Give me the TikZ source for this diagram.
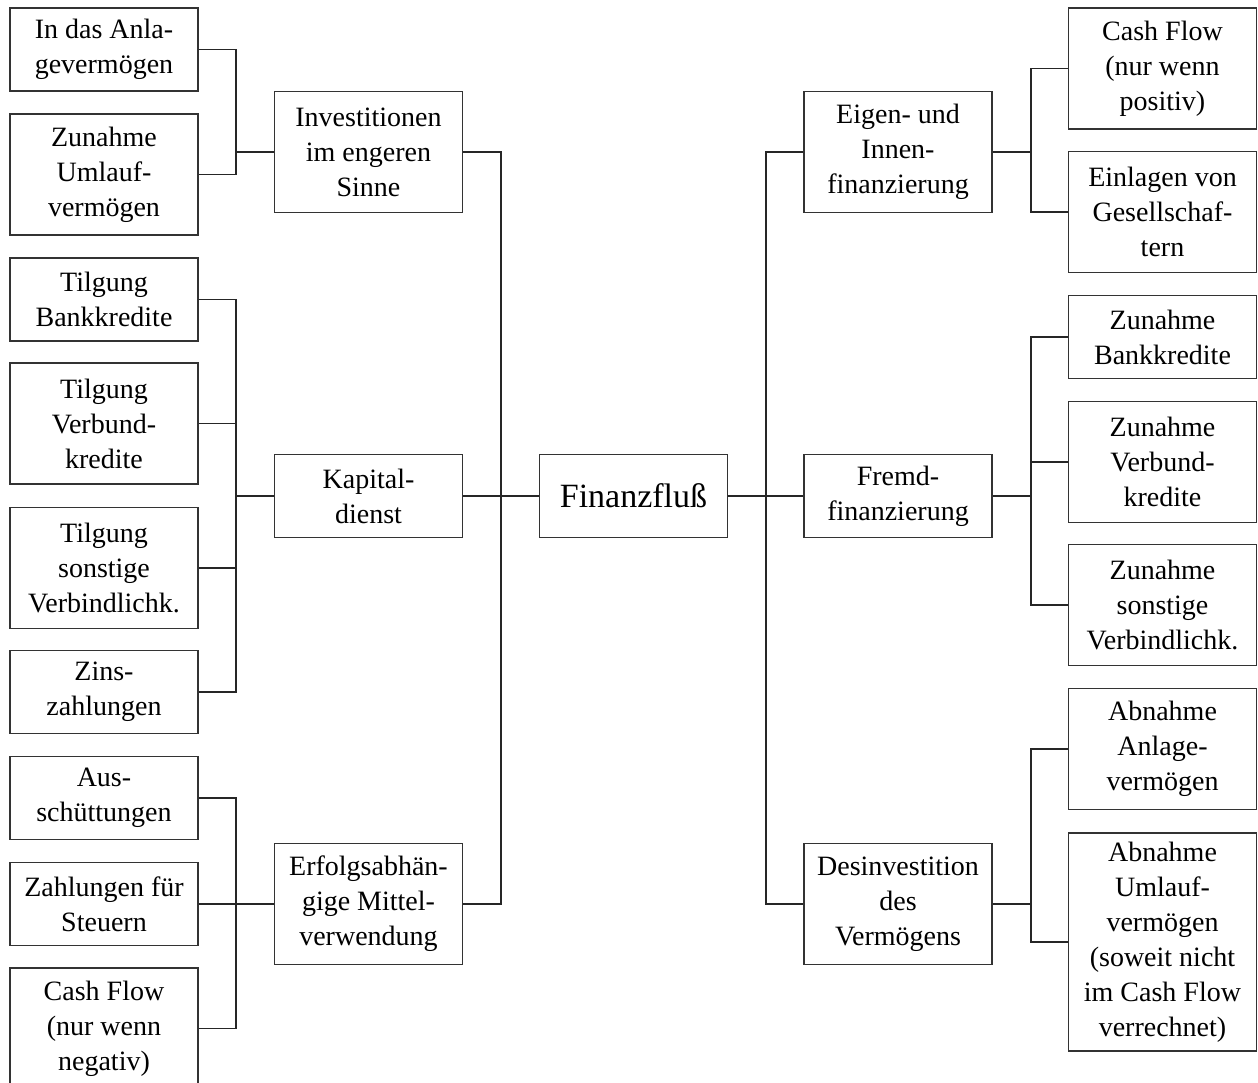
\documentclass[tikz,border=0pt]{standalone}
\usepackage{fontspec}
\setmainfont{Liberation Serif}
\begin{document}
\begin{tikzpicture}[x=0.5pt, y=-0.5pt,
    box/.style={draw=black!80, line width=0.6pt, align=center, inner sep=0pt,
        minimum width=94pt, minimum height=41.5pt, font=\fontsize{14}{17.5}\selectfont},
    tall/.style={box, minimum height=60.5pt},
    link/.style={draw=black!85, line width=0.6pt}]
    \useasboundingbox (0,0) rectangle (1258,1082);
    \clip (0,0) rectangle (1258,1082);

    % Left column
    \node[box] (anlage) at (104,49.5) {In das Anla-\\gevermögen};
    \node[tall] (umlauf) at (104,174.5) {Zunahme\\Umlauf-\\vermögen};
    \node[box] (tbank) at (104,299.5) {Tilgung\\Bankkredite};
    \node[tall] (tverbund) at (104,423.5) {Tilgung\\Verbund-\\kredite};
    \node[tall] (tsonst) at (104,568) {Tilgung\\sonstige\\Verbindlichk.};
    \node[box] (zins) at (104,692) {Zins-\\zahlungen};
    \node[box] (aus) at (104,798) {Aus-\\schüttungen};
    \node[box] (steuer) at (104,904) {Zahlungen für\\Steuern};
    \node[tall] (cfneg) at (104,1028.5) {Cash Flow\\(nur wenn\\negativ)};

    % Middle left
    \node[tall] (inv) at (368.5,152) {Investitionen\\im engeren\\Sinne};
    \node[box] (kap) at (368.5,496) {Kapital-\\dienst};
    \node[tall] (erfolg) at (368.5,904) {Erfolgsabhän-\\gige Mittel-\\verwendung};

    % Central box
    \node[box, font=\fontsize{17}{20}\selectfont] (fin) at (633.5,496) {Finanzfluß};

    % Middle right
    \node[tall] (eigen) at (898,152) {Eigen- und\\Innen-\\finanzierung};
    \node[box] (fremd) at (898,496) {Fremd-\\finanzierung};
    \node[tall] (desinv) at (898,904) {Desinvestition\\des\\Vermögens};

    % Right column
    \node[tall] (cfpos) at (1162.5,68.5) {Cash Flow\\(nur wenn\\positiv)};
    \node[tall] (einlagen) at (1162.5,212) {Einlagen von\\Gesellschaf-\\tern};
    \node[box] (zbank) at (1162.5,337) {Zunahme\\Bankkredite};
    \node[tall] (zverbund) at (1162.5,462) {Zunahme\\Verbund-\\kredite};
    \node[tall] (zsonst) at (1162.5,605) {Zunahme\\sonstige\\Verbindlichk.};
    \node[tall] (abanlage) at (1162.5,749) {Abnahme\\Anlage-\\vermögen};
    \node[box, minimum height=109pt] (abumlauf) at (1162.5,942)
        {Abnahme\\Umlauf-\\vermögen\\(soweit nicht\\im Cash Flow\\verrechnet)};

    % Junctions
    \coordinate (jinv) at (236,152);
    \coordinate (jkap) at (236,496);
    \coordinate (jerf) at (236,904);
    \coordinate (jl) at (501,496);
    \coordinate (jr) at (766,496);
    \coordinate (jeig) at (1031,152);
    \coordinate (jfre) at (1031,496);
    \coordinate (jdes) at (1031,904);

    % Left brackets
    \draw[link] (anlage.east) -| (jinv) |- (umlauf.east);
    \draw[link] (jinv) -- (inv.west);
    \draw[link] (tbank.east) -| (jkap) |- (zins.east);
    \foreach \n in {tverbund, tsonst}
        \draw[link] (\n.east) -- (\n.east -| jkap);
    \draw[link] (jkap) -- (kap.west);
    \draw[link] (aus.east) -| (jerf) |- (cfneg.east);
    \draw[link] (steuer.east) -- (erfolg.west);

    % Main lines
    \draw[link] (inv.east) -| (jl) |- (erfolg.east);
    \draw[link] (kap.east) -- (fin.west);
    \draw[link] (eigen.west) -| (jr) |- (desinv.west);
    \draw[link] (fin.east) -- (fremd.west);

    % Right brackets
    \draw[link] (cfpos.west) -| (jeig) |- (einlagen.west);
    \draw[link] (eigen.east) -- (jeig);
    \draw[link] (zbank.west) -| (jfre) |- (zsonst.west);
    \draw[link] (zverbund.west) -- (zverbund.west -| jfre);
    \draw[link] (fremd.east) -- (jfre);
    \draw[link] (abanlage.west) -| (jdes) |- (abumlauf.west);
    \draw[link] (desinv.east) -- (jdes);
\end{tikzpicture}
\end{document}
